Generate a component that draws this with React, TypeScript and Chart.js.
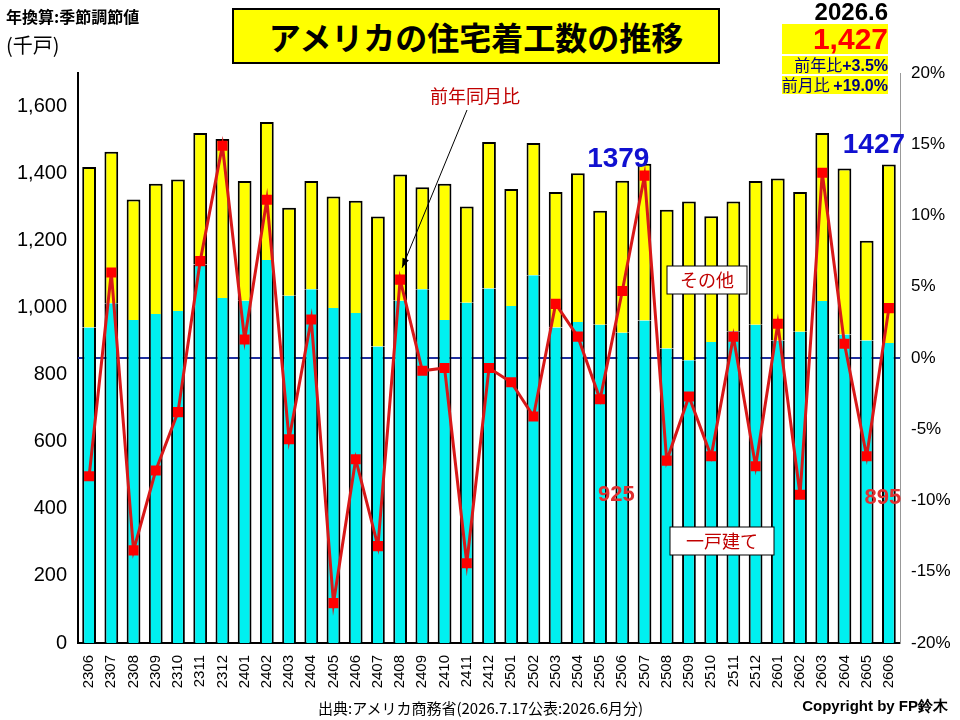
import React, { useEffect, useRef } from "react";
import { Chart, registerables } from "chart.js";
Chart.register(...registerables);

const months = ["2306","2307","2308","2309","2310","2311","2312","2401","2402","2403","2404","2405","2406","2407","2408","2409","2410","2411","2412","2501","2502","2503","2504","2505","2506","2507","2508","2509","2510","2511","2512","2601","2602","2603","2604","2605","2606"];
const totalStarts = [1420,1465,1323,1370,1382,1521,1503,1378,1554,1298,1378,1332,1319,1272,1397,1359,1370,1302,1494,1354,1491,1345,1401,1289,1379,1429,1292,1317,1273,1317,1378,1385,1345,1521,1415,1200,1427];
const singleFamily = [941,1013,963,981,990,1129,1029,1021,1142,1036,1055,999,984,884,1021,1055,963,1015,1057,1005,1097,941,957,949,925,962,878,843,898,930,949,902,928,1020,920,902,895];
const yoyPct = [-8.3,6.0,-13.5,-7.9,-3.8,6.8,14.9,1.3,11.1,-5.7,2.7,-17.2,-7.1,-13.2,5.5,-0.9,-0.7,-14.4,-0.7,-1.7,-4.1,3.8,1.5,-2.9,4.7,12.8,-7.2,-2.7,-6.9,1.5,-7.6,2.4,-9.6,13.0,1.0,-6.9,3.5];
const others = totalStarts.map((t, i) => t - singleFamily[i]);

const F = "Arial, 'Liberation Sans', sans-serif";

const overlay = {
  id: "overlay",
  beforeDatasetsDraw(chart: any) {
    const { ctx, chartArea: a, scales } = chart;
    const z = scales.y2.getPixelForValue(0);
    ctx.save();
    ctx.strokeStyle = "#2030a0"; ctx.lineWidth = 2;
    ctx.beginPath(); ctx.moveTo(a.left, z); ctx.lineTo(a.right, z); ctx.stroke();
    ctx.restore();
  },
  afterDraw(chart: any) {
    const { ctx, scales } = chart;
    const x = scales.x, y = scales.y, y2 = scales.y2;
    ctx.save();
    ctx.textBaseline = "middle"; ctx.textAlign = "center";
    const last = months.length - 1;
    const i506 = months.indexOf("2506");
    ctx.font = `bold 28px ${F}`; ctx.fillStyle = "#1010d0";
    ctx.fillText(String(totalStarts[i506]), x.getPixelForValue(i506) - 4, 159);
    ctx.fillText(String(totalStarts[last]), x.getPixelForValue(last) - 15, 145);
    ctx.font = `bold 22px ${F}`; ctx.fillStyle = "#e03030";
    ctx.fillText(String(singleFamily[i506]), x.getPixelForValue(i506) - 6, 495);
    ctx.fillText(String(singleFamily[last]), x.getPixelForValue(last) - 6, 498);
    const box = (t: string, cx: number, cy: number, w: number) => {
      ctx.fillStyle = "#fff"; ctx.strokeStyle = "#000"; ctx.lineWidth = 1;
      ctx.fillRect(cx - w / 2, cy - 14, w, 28); ctx.strokeRect(cx - w / 2, cy - 14, w, 28);
      ctx.fillStyle = "#c00000"; ctx.font = `18px 'Noto Sans CJK JP', sans-serif`;
      ctx.fillText(t, cx, cy);
    };
    box("その他", 707, 280, 80);
    box("一戸建て", 722, 541, 104);
    ctx.fillStyle = "#c00000"; ctx.font = `18px 'Noto Sans CJK JP', sans-serif`;
    ctx.fillText("前年同月比", 475, 96);
    const i408 = months.indexOf("2408");
    const px = x.getPixelForValue(i408) + 2, py = y2.getPixelForValue(yoyPct[i408]) - 12;
    const sx = 467, sy = 110;
    ctx.strokeStyle = "#000"; ctx.lineWidth = 1;
    ctx.beginPath(); ctx.moveTo(sx, sy); ctx.lineTo(px, py); ctx.stroke();
    const ang = Math.atan2(py - sy, px - sx);
    ctx.fillStyle = "#000"; ctx.beginPath();
    ctx.moveTo(px, py);
    ctx.lineTo(px - 10 * Math.cos(ang - 0.35), py - 10 * Math.sin(ang - 0.35));
    ctx.lineTo(px - 10 * Math.cos(ang + 0.35), py - 10 * Math.sin(ang + 0.35));
    ctx.closePath(); ctx.fill();
    ctx.restore();
  },
};

export default function App() {
  const ref = useRef<HTMLCanvasElement>(null);
  useEffect(() => {
    const chart = new Chart(ref.current!, {
      type: "bar",
      data: {
        labels: months,
        datasets: [
          { type: "line", label: "前年同月比", data: yoyPct, yAxisID: "y2", borderColor: "#d81818", borderWidth: 3, pointStyle: "rect", pointRadius: 5, pointBackgroundColor: "#ff0000", pointBorderColor: "#ff0000", order: 0 } as any,
          { label: "一戸建て", data: singleFamily, backgroundColor: "#00f0f0", borderColor: "#000", borderWidth: { left: 2, right: 2, top: 0, bottom: 0 } as any, barPercentage: 0.62, categoryPercentage: 1, stack: "s", order: 1 },
          { label: "その他", data: others, backgroundColor: "#ffff00", borderColor: "#000", borderWidth: 2, borderSkipped: "bottom", barPercentage: 0.62, categoryPercentage: 1, stack: "s", order: 1 },
        ],
      },
      options: {
        animation: false, responsive: false,
        layout: { padding: { top: 73, bottom: 22, left: 0, right: 5 } },
        plugins: { legend: { display: false }, tooltip: { enabled: false } },
        scales: {
          x: {
            stacked: true, grid: { display: false, drawTicks: true }, border: { color: "#000", width: 2 },
            ticks: { color: "#000", font: { family: F, size: 15 }, maxRotation: 90, minRotation: 90, autoSkip: false, padding: 4 },
            afterFit: (s: any) => { s.height = 55; },
          },
          y: {
            stacked: true, min: 0, max: 1700, border: { color: "#000", width: 2 },
            grid: { display: false },
            afterBuildTicks: (s: any) => { s.ticks = [0,200,400,600,800,1000,1200,1400,1600].map((v) => ({ value: v })); },
            ticks: { color: "#000", font: { family: F, size: 20 }, callback: (v: any) => Number(v).toLocaleString("en-US") },
            afterFit: (s: any) => { s.width = 78; },
          },
          y2: {
            position: "right", min: -20, max: 20, border: { color: "#999", width: 1 },
            grid: { display: false, drawOnChartArea: false },
            ticks: { stepSize: 5, color: "#000", font: { family: F, size: 17 }, callback: (v: any) => v + "%" },
            afterFit: (s: any) => { s.width = 55; },
          },
        },
      },
      plugins: [overlay],
    });
    return () => chart.destroy();
  }, []);
  const jp = "'Noto Sans CJK JP', sans-serif";
  return (
    <div style={{ position: "absolute", left: 0, top: 0, width: 960, height: 720, background: "#fff", fontFamily: jp }}>
      <canvas ref={ref} width={960} height={720} style={{ position: "absolute", left: 0, top: 0 }} />
      <div style={{ position: "absolute", left: 6, top: 4, fontSize: 16, fontWeight: "bold" }}>年換算:季節調節値</div>
      <div style={{ position: "absolute", left: 6, top: 30, fontSize: 20 }}>(千戸)</div>
      <div style={{ position: "absolute", left: 232, top: 8, width: 484, height: 52, background: "#ffff00", border: "2px solid #000", display: "flex", alignItems: "center", justifyContent: "center", fontSize: 32, fontWeight: "bold" }}>アメリカの住宅着工数の推移</div>
      <div style={{ position: "absolute", right: 72, top: 0, textAlign: "right", lineHeight: 1 }}>
        <div style={{ fontFamily: F, fontSize: 24, fontWeight: "bold" }}>2026.6</div>
        <div style={{ fontFamily: F, fontSize: 30, fontWeight: "bold", color: "#ff0000", background: "#ffff00" }}>1,427</div>
        <div style={{ fontSize: 16, background: "#ffff00", color: "#000080", marginTop: 2 }}>前年比<b style={{ fontFamily: F }}>+3.5%</b></div>
        <div style={{ fontSize: 16, background: "#ffff00", color: "#000080", marginTop: 2 }}>前月比 <b style={{ fontFamily: F }}>+19.0%</b></div>
      </div>
      <div style={{ position: "absolute", left: 318, top: 697, fontSize: 15 }}>出典:アメリカ商務省(2026.7.17公表:2026.6月分)</div>
      <div style={{ position: "absolute", right: 12, top: 697, fontSize: 15, fontWeight: "bold", fontFamily: F }}>Copyright by FP鈴木</div>
    </div>
  );
}
